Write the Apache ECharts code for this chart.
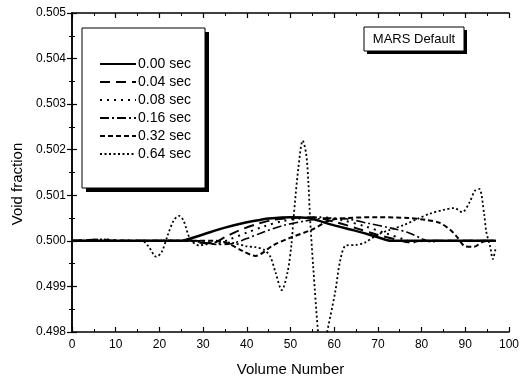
<!DOCTYPE html>
<html><head><meta charset="utf-8">
<script src="https://cdn.jsdelivr.net/npm/echarts@6/dist/echarts.min.js"></script>
<style>html,body{margin:0;padding:0;background:#fff}#c{width:522px;height:385px}</style>
</head><body><div id="c"></div>
<script>
const seriesNames = ['0.00 sec','0.04 sec','0.08 sec','0.16 sec','0.32 sec','0.64 sec'];
const xTicks = [0,10,20,30,40,50,60,70,80,90,100];
const yTicks = [0.498,0.499,0.500,0.501,0.502,0.503,0.504,0.505];

const x00 = [0,5,10,15,20,25,26,30,35,40,43,45,50,54,60,65,70,73,80,90,97];
const y00 = [0.5,0.5,0.5,0.5,0.5,0.5,0.50002,0.50014,0.50029,0.50041,0.50046,0.50049,0.50052,0.50050,0.50034,0.50022,0.50008,0.5,0.5,0.5,0.5];
const x04 = [0,7,10,20,27,29,32,35,38,42,46,50,55,60,65,70,75,77,80,90,97];
const y04 = [0.5,0.50003,0.5,0.5,0.5,0.49996,0.49995,0.50008,0.50022,0.50036,0.50046,0.5005,0.50052,0.50042,0.50028,0.50013,0.50001,0.49997,0.5,0.5,0.5];
const x08 = [0,8,12,20,28,30,33,36,40,44,48,52,57,62,67,72,76,78,81,90,97];
const y08 = [0.5,0.50003,0.5,0.5,0.5,0.49995,0.49993,0.50003,0.50018,0.50032,0.50043,0.50049,0.50052,0.50045,0.50032,0.50016,0.50003,0.49997,0.5,0.5,0.5];
const x16 = [0,10,20,30,33,36,40,44,48,53,58,63,68,73,77,80,82,85,90,97];
const y16 = [0.5,0.5,0.5,0.5,0.49992,0.49993,0.50005,0.5002,0.50033,0.50043,0.5005,0.50048,0.50038,0.50028,0.50018,0.50005,0.49998,0.5,0.5,0.5];
const x32 = [0,10,20,33,36,39,42,46,50,55,59,63,70,77,81,84,86.6,88,90,92,94,96,97];
const y32 = [0.5,0.5,0.5,0.5,0.49993,0.49978,0.49967,0.4999,0.50007,0.50025,0.50045,0.5005,0.50052,0.5005,0.50046,0.5004,0.50024,0.5001,0.49988,0.49987,0.49998,0.5,0.5];
const x64 = [0,10,16,17.5,19.3,20.5,22,23.3,24.5,25.5,27,29,31,34,37,40,42,44,45.4,46.6,48,49.3,50.2,50.7,51.8,52.8,53.6,54.1,54.5,55.2,56.4,57.3,58.2,60.2,61.4,62.7,65,67,70,73,76,79,82,85,87.5,89.3,91,92.2,93.2,94.3,94.8,95.7,96.3,97];
const y64 = [0.5,0.5,0.5,0.49988,0.49965,0.49975,0.50015,0.50045,0.50055,0.50045,0.50005,0.4999,0.49993,0.49998,0.49995,0.49988,0.49986,0.4998,0.49965,0.4993,0.49892,0.4993,0.4999,0.5005,0.5016,0.5022,0.5019,0.50127,0.50046,0.49943,0.4979,0.4973,0.4979,0.49886,0.49958,0.4999,0.49991,0.49996,0.50014,0.50025,0.50035,0.50048,0.5006,0.50068,0.50072,0.50063,0.50085,0.5011,0.50114,0.5006,0.5002,0.49987,0.4996,0.49987];

const xsAll = [x00,x04,x08,x16,x32,x64];
const ysAll = [y00,y04,y08,y16,y32,y64];
const styles = [
  {type:'solid', width:2.5},
  {type:[10,6], width:2},
  {type:[2,5], width:2},
  {type:[9,3,2,3], width:1.6},
  {type:[5,3], width:2},
  {type:[2,2.5], width:1.8}
];

const FONT = '"Liberation Sans", Arial, sans-serif';
const chart = echarts.init(document.getElementById('c'), null, {renderer:'canvas'});

const series = seriesNames.map((n,i)=>({
  name:n, type:'line', xAxisIndex:0, yAxisIndex:0,
  data: xsAll[i].map((x,j)=>[x, ysAll[i][j]]),
  showSymbol:false, symbol:'none', smooth:0.3, clip:true,
  lineStyle:{color:'#000', width:styles[i].width, type:styles[i].type},
  itemStyle:{color:'#000'},
  z: 10 - i
}));

const axisCommon = {
  axisLine:{show:true, lineStyle:{color:'#000', width:1.5}},
  axisTick:{show:true, inside:true, length:5, lineStyle:{color:'#000', width:1.2}},
  minorTick:{show:true, splitNumber:2, length:3, lineStyle:{color:'#000', width:1}},
  splitLine:{show:false}
};

chart.setOption({
  animation:false,
  backgroundColor:'#fff',
  grid:{left:72, right:10, top:13, bottom:53, containLabel:false},
  legend:{
    data:seriesNames, orient:'vertical', left:99, top:57, padding:0,
    itemWidth:36, itemHeight:12, itemGap:4,
    itemStyle:{opacity:0},
    textStyle:{fontFamily:FONT, fontSize:14, color:'#000', padding:[0,0,0,-3]}
  },
  xAxis:[
    Object.assign({type:'value', min:0, max:100, interval:10, position:'bottom',
      name:'Volume Number', nameLocation:'middle', nameGap:30,
      nameTextStyle:{fontFamily:FONT, fontSize:15, color:'#000'},
      axisLabel:{fontFamily:FONT, fontSize:12, color:'#000', margin:7}}, axisCommon),
    Object.assign({type:'value', min:0, max:100, interval:10, position:'top',
      axisLabel:{show:false}}, axisCommon)
  ],
  yAxis:[
    Object.assign({type:'value', min:0.498, max:0.505, interval:0.001, position:'left',
      axisLabel:{fontFamily:FONT, fontSize:12, color:'#000', margin:6,
        formatter:v=>v.toFixed(3)}}, axisCommon),
    Object.assign({type:'value', min:0.498, max:0.505, interval:0.001, position:'right',
      axisLabel:{show:false}}, axisCommon)
  ],
  graphic:[
    {type:'text', x:18, y:184, rotation:Math.PI/2, style:{text:'Void fraction', fontFamily:FONT, fontSize:15, fill:'#000', align:'center', verticalAlign:'middle'}, z:4},
    {type:'rect', shape:{x:86, y:32, width:123, height:160}, style:{fill:'#000'}, z:3},
    {type:'rect', shape:{x:82, y:28, width:123, height:160}, style:{fill:'#fff', stroke:'#000', lineWidth:1}, z:3},
    {type:'rect', shape:{x:367, y:30, width:100, height:24}, style:{fill:'#000'}, z:3},
    {type:'rect', shape:{x:364, y:27, width:100, height:24}, style:{fill:'#fff', stroke:'#000', lineWidth:1}, z:3},
    {type:'text', x:414, y:39, style:{text:'MARS Default', fontFamily:FONT, fontSize:13, fill:'#000', align:'center', verticalAlign:'middle'}, z:4}
  ],
  series:series
});
</script></body></html>
